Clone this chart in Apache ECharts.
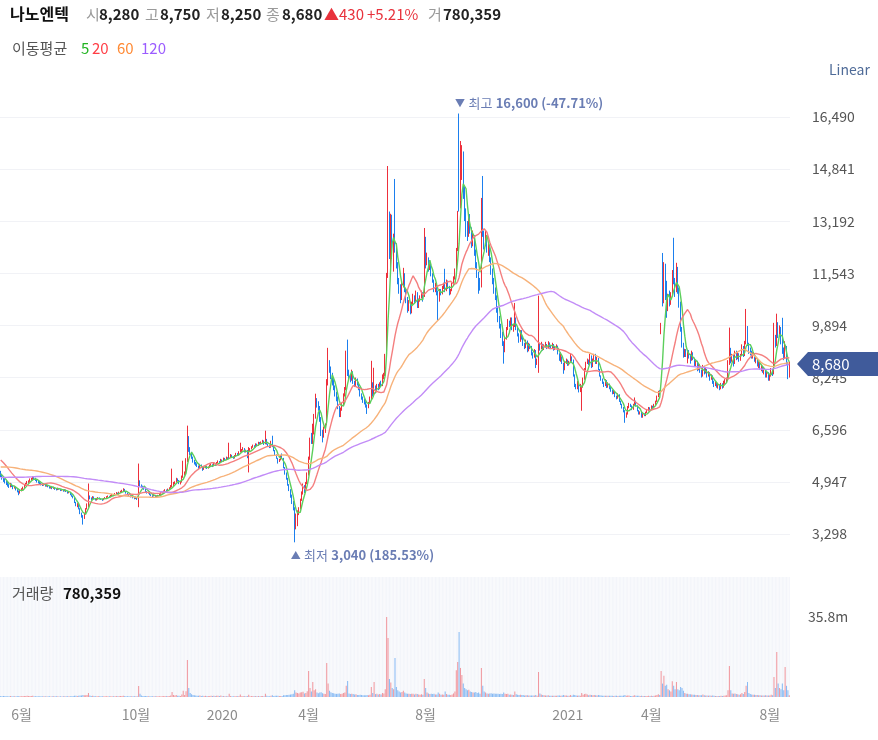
<!DOCTYPE html>
<html><head><meta charset="utf-8">
<script src="https://cdn.jsdelivr.net/npm/echarts@6/dist/echarts.min.js"></script>
<style>html,body{margin:0;padding:0;background:#fff}#c{width:878px;height:740px}</style>
</head><body><div id="c"></div>
<script>
const stockName = '나노엔텍';
const startDate = '2019-05-13';
const holidays = ['2019-06-06','2019-08-15','2019-09-12','2019-09-13','2019-10-03','2019-10-09','2019-12-25','2019-12-31',
 '2020-01-01','2020-01-24','2020-01-27','2020-04-15','2020-04-30','2020-05-01','2020-05-05','2020-08-17','2020-09-30','2020-10-01','2020-10-02','2020-10-09','2020-12-25','2020-12-31',
 '2021-01-01','2021-02-11','2021-02-12','2021-03-01','2021-05-05','2021-05-19','2021-08-16'];
const tickMonths = ['2019-06','2019-10','2020-01','2020-04','2020-08','2021-01','2021-04','2021-08'];
const tickLabels = ['6월','10월','2020','4월','8월','2021','4월','8월'];
const maPeriods = [5,20,60,120];
const maLegendColors = ['#22b422','#ff3d45','#ff8a35','#9b5cff'];
const maLineColors = ['#5ccf5c','#f47f7f','#f7b27a','#c28cf7'];
const priceTicks = {min:1649, max:18139, step:1649};
const volumeTick = 35800;

// closes before the visible window (only used for moving averages)
const preCloses = [4700,4680,4720,4750,4700,4650,4680,4720,4760,4800,4780,4750,4700,4720,4690,4650,4600,4640,4680,4700,
4720,4750,4800,4830,4790,4760,4740,4700,4720,4750,4780,4820,4850,4800,4760,4720,4700,4680,4720,4760,
4790,4810,4780,4750,4730,4700,4720,4750,4770,4800,4760,4740,4780,4800,4820,4790,4760,4780,4810,4850,
4880,4920,4950,5000,4980,5020,5050,5100,5080,5120,5150,5130,5100,5150,5200,5180,5220,5250,5230,5280,
5300,5280,5320,5350,5380,5400,5420,5380,5420,5450,5480,5500,5520,5550,5580,5600,5620,5650,5680,5700,
5750,5850,5950,6000,5900,5950,6050,5980,5900,5850,5800,5700,5650,5500,5400,5350,5300,5250,5200,5150];

// [open, high, low, close, volume(thousand shares)]
const bars2019 = [
[5250,5300,5100,5150,420],[5150,5200,5020,5080,380],[5080,5120,4950,5000,450],[5000,5060,4900,4950,400],[4950,5000,4850,4900,350],
[4900,4950,4800,4850,330],[4850,4880,4760,4800,360],[4800,4920,4780,4880,410],[4880,4900,4790,4820,300],[4820,4840,4720,4760,340],
[4760,4830,4740,4790,280],[4790,4800,4680,4700,380],[4700,4720,4620,4650,350],[4650,4680,4530,4600,460],[4600,4700,4580,4680,390],
[4680,4750,4650,4720,350],[4720,4800,4700,4780,400],[4780,4870,4760,4850,430],[4850,4920,4820,4900,470],[4900,4980,4870,4950,520],
[4950,5000,4900,4980,410],[4980,5060,4950,5020,460],[5020,5080,4990,5050,430],[5050,5130,5020,5100,560],[5100,5120,5030,5060,380],
[5060,5080,4980,5000,350],[5000,5020,4930,4960,320],[4960,4990,4900,4920,300],[4920,4950,4870,4900,290],[4900,4920,4840,4870,310],
[4870,4900,4820,4850,280],[4850,4910,4830,4880,330],[4880,4890,4800,4820,300],[4820,4870,4800,4850,270],[4850,4860,4780,4800,290],
[4800,4820,4740,4760,310],[4760,4810,4740,4790,260],[4790,4800,4720,4740,280],[4740,4800,4730,4780,300],[4780,4790,4700,4720,320],
[4720,4740,4680,4700,290],[4700,4770,4690,4750,310],[4750,4760,4700,4720,270],[4720,4730,4660,4680,300],[4680,4720,4670,4700,260],
[4700,4710,4640,4660,280],[4660,4720,4650,4700,300],[4700,4710,4630,4650,290],[4650,4660,4580,4600,350],[4600,4650,4590,4620,280],
[4620,4630,4530,4550,360],[4550,4560,4480,4500,380],[4500,4520,4430,4450,400],[4450,4460,4280,4300,520],[4300,4320,4180,4200,560],
[4200,4280,4150,4250,480],[4250,4260,4080,4100,540],[4100,4120,3930,3950,620],[3950,3980,3820,3850,680],[3850,3900,3600,3800,900],
[3800,3970,3780,3950,750],[3950,4120,3920,4100,820],[4100,4270,4080,4250,900],[4250,4900,4150,4450,1800],[4460,4520,4400,4430,700],
[4430,4460,4370,4400,500],[4400,4500,4380,4480,520],[4480,4490,4400,4420,400],[4420,4440,4360,4380,380],[4380,4420,4360,4400,350],
[4400,4470,4390,4450,400],[4450,4460,4400,4420,320],[4420,4430,4380,4400,300],[4400,4410,4350,4380,310],[4380,4440,4370,4420,330],
[4420,4470,4410,4450,360],[4450,4500,4430,4480,340],[4480,4520,4460,4500,320],[4500,4510,4450,4470,290],[4470,4540,4460,4520,330],
[4520,4570,4500,4550,350],[4550,4560,4500,4530,300],[4530,4600,4520,4580,380],[4580,4630,4560,4600,400],[4600,4610,4540,4560,330],
[4560,4640,4550,4620,420],[4620,4670,4600,4650,450],[4650,4700,4630,4680,480],[4680,4750,4660,4720,560],[4720,4730,4630,4650,420],
[4650,4660,4580,4600,380],[4600,4610,4530,4550,360],[4550,4570,4500,4520,330],[4520,4530,4460,4480,340],[4480,4520,4470,4500,300],
[4500,4510,4430,4450,320],[4450,4460,4400,4420,310],[4420,4480,4410,4460,290],[4460,4470,4380,4400,350],[4400,5530,4150,4950,4900],
[4950,5000,4800,4850,1500],[4850,4870,4770,4800,700],[4800,4830,4750,4780,500],[4780,4790,4700,4720,450],[4720,4730,4630,4650,420],
[4650,4660,4580,4600,400],[4600,4650,4580,4620,350],[4620,4630,4530,4550,380],[4550,4560,4500,4520,340],[4520,4530,4470,4500,300],
[4500,4550,4490,4530,310],[4530,4540,4460,4480,300],[4480,4520,4470,4500,280],[4500,4540,4490,4520,290],[4520,4570,4510,4550,320],
[4550,4620,4540,4600,380],[4600,4640,4580,4620,360],[4620,4680,4600,4650,400],[4650,4720,4630,4700,450],[4700,4710,4650,4680,380],
[4680,4740,4670,4720,420],[4720,4780,4700,4750,480],[4750,4850,4740,4800,620],[4800,5370,4780,4850,2200],[4850,4950,4820,4900,900],
[4900,4970,4880,4950,700],[4950,5080,4930,5050,900],[5050,5060,4970,5000,600],[5000,5010,4880,4900,550],[4900,4980,4870,4950,500],
[4950,5150,4930,5100,1100],[5100,5620,5080,5200,2800],[5200,5280,5150,5250,900],[5250,5700,5200,5600,2600],[5600,6730,5580,6300,16600],
[6300,6400,5900,6000,4000],[6000,6050,5800,5850,1800],[5850,5900,5680,5700,1200],[5700,5750,5560,5600,900],[5600,5650,5500,5550,800],
[5550,5580,5460,5500,700],[5500,5540,5420,5450,600],[5450,5470,5360,5400,600],[5400,5520,5380,5480,650],[5480,5500,5400,5420,500],
[5420,5430,5300,5350,600],[5350,5430,5330,5400,500],[5400,5480,5380,5450,520],[5450,5460,5360,5380,480],[5380,5440,5370,5420,450],
[5420,5500,5400,5480,500],[5480,5540,5460,5500,520],[5500,5510,5420,5450,450],[5450,5550,5440,5520,530],[5520,5530,5460,5480,420],
[5480,5580,5470,5550,550],[5550,5630,5540,5600,600],[5600,5610,5540,5580,450],[5580,5680,5570,5650,620]];

const bars2020 = [
[5650,5660,5580,5600,300],[5600,5720,5590,5700,420],[5700,5710,5620,5650,320],[5650,5750,5640,5720,380],[5720,5730,5650,5680,300],
[5680,6190,5670,5750,1500],[5750,5830,5720,5800,500],[5800,5810,5720,5750,380],[5750,5760,5680,5700,350],[5700,5800,5690,5780,380],
[5780,5870,5760,5850,400],[5850,5860,5780,5800,320],[5800,5920,5790,5900,450],[5900,6190,5880,5950,1100],[5930,5990,5890,5960,380],
[5960,6050,5940,6000,450],[6000,6020,5880,5900,380],[5900,5970,5880,5950,320],[5950,5960,5700,5750,450],[5650,6050,5250,5950,1000],
[5950,6020,5930,6000,380],[6000,6080,5980,6050,400],[6050,6130,6030,6100,450],[6100,6110,6030,6050,350],[6050,6170,6040,6150,450],
[6150,6160,6080,6100,350],[6100,6220,6090,6200,480],[6200,6210,6120,6150,380],[6150,6230,6140,6200,400],[6200,6280,6180,6250,450],
[6250,6260,6120,6150,380],[6150,6570,6140,6300,1400],[6300,6310,6130,6150,550],[6150,6160,6080,6100,380],[6100,6110,6020,6050,350],
[6050,6250,6030,6200,550],[6200,6410,6050,6100,750],[6100,6110,5920,5950,500],[5950,5960,5780,5800,550],[5800,5820,5680,5700,520],
[5700,5710,5530,5600,600],[5600,5680,5580,5650,450],[5650,5800,5630,5750,500],[5750,5850,5680,5700,450],[5700,5710,5380,5400,750],
[5400,5420,5180,5200,800],[5200,5250,5020,5050,900],[5050,5080,4830,4850,950],[4850,4880,4660,4700,1000],[4700,4720,4450,4500,1100],
[4500,4550,4250,4300,1200],[4300,4350,4050,4100,1400],[4050,4150,3040,3650,3000],[3600,3950,3450,3850,2000],[3850,4050,3550,3950,1800],
[3950,4150,3900,4100,1600],[4100,4420,4080,4400,2000],[4400,4650,4350,4600,2100],[4600,4900,4550,4800,2400],[4800,4850,4600,4700,1600],
[4700,4950,4650,4900,1800],[4900,5250,4880,5200,2600],[5200,5750,5150,5700,11600],[5700,6350,5650,6300,4000],[6300,6500,6150,6200,2500],
[6200,6790,6150,6500,6700],[6500,7100,6450,7000,3000],[7000,7740,6950,7500,3500],[7500,7600,7300,7400,2000],[7400,7500,7200,7300,1700],
[7300,7350,6850,6900,2000],[6900,7000,6400,6500,2100],[6500,6600,6200,6400,1700],[6400,6700,6350,6600,1400],[6600,6800,6500,6700,1300],
[6750,8200,6750,8100,15200],[8100,9190,8000,8700,6000],[8700,8800,8400,8500,2800],[8500,8600,8200,8300,2100],[8300,8400,8000,8100,1800],
[8100,8200,7850,7900,1700],[7900,8000,7650,7700,1500],[7700,7800,7500,7600,1400],[7600,7650,7250,7300,1500],[7300,7350,7000,7100,1600],
[7100,7300,7000,7250,1300],[7250,7450,7200,7400,1400],[7400,7750,7380,7700,1800],[7700,7950,7650,7900,2000],[7900,9100,7850,8900,5000],
[8900,9450,8300,8400,7200],[8400,8500,8200,8300,1600],[8300,8350,8100,8200,1300],[8200,8500,8150,8400,1400],[8400,8450,8050,8100,1300],
[8100,8150,7950,8000,1100],[8000,8250,7980,8200,1200],[8200,8220,8000,8050,950],[8050,8100,7850,7900,950],[7900,7950,7650,7700,1000],
[7700,7750,7550,7600,900],[7600,7650,7450,7500,800],[7500,7580,7400,7450,750],[7450,7500,7300,7350,750],[7350,7400,7100,7300,950],
[7300,7480,7280,7450,800],[7450,7650,7430,7600,1000],[7600,8780,7550,8000,4500],[8000,8100,7650,7700,1800],[7700,8560,7650,7900,6700],
[7900,8000,7750,7800,1300],[7800,8050,7780,8000,1400],[8000,8050,7850,7900,1100],[7900,8100,7880,8050,1300],[8050,8150,7950,8000,1100],
[8000,8350,7980,8300,1800],[8300,8400,8200,8350,1600],[8350,9000,8300,8900,3500],[9000,11560,8950,11560,35800],[12000,14940,11400,13100,26400],
[13000,13500,12000,12200,8000],[12100,13430,11700,13300,6500],[13200,13400,12000,12300,4000],[12300,12800,11600,12500,3500],[12800,14530,12200,12400,17500],
[12400,12500,11700,11800,4500],[11800,11900,11200,11300,3000],[11300,11400,10900,11000,2500],[11000,11200,10600,10800,2000],[10800,11300,10700,11200,2200],
[11200,11720,11100,11500,2800],[11500,11550,10950,11000,2000],[11000,11050,10600,10700,1600],[10700,10800,10300,10400,1500],[10400,10700,10350,10600,1400],
[10600,10650,10250,10300,1300],[10300,10650,10280,10600,1400],[10600,10900,10550,10800,1500],[10800,10850,10600,10700,1100],[10700,11000,10650,10900,1400],
[10900,10950,10450,10500,1300],[10500,10750,10450,10700,1100],[10700,10850,10650,10800,1000],[10800,11000,10750,10900,1200],[10900,10950,10650,10700,1000],
[10900,12980,10800,12400,8000],[12400,12700,11700,11900,4000],[11900,12200,11800,12000,2000],[12000,12050,11600,11700,1600],[11700,11900,11650,11800,1300],
[11800,11850,11450,11500,1400],[11500,11550,11250,11300,1300],[11300,11350,10950,11000,1400],[11000,11250,10950,11200,1100],[11200,11250,10850,10900,1100],
[10900,11000,10050,10700,2000],[10700,11050,10650,11000,1400],[11000,11050,10850,10900,1000],[10900,11150,10880,11100,1100],[11100,11250,11050,11200,1000],
[11200,11690,10950,11000,2500],[11000,11350,10980,11300,1300],[11300,11320,11050,11100,1000],[11100,11150,10850,10900,1000],[10900,11050,10880,11000,900],
[11000,11250,10980,11200,1100],[11200,11450,11150,11400,1600],[11400,11700,11350,11600,2500],[11600,12350,11550,12300,12000],[12300,13520,12250,13300,15700],
[15000,16600,13500,13900,29100],[13900,15730,13600,15400,13000],[15100,15600,14500,15300,9800],[15300,15400,13900,14000,6000],[14000,14300,13200,13400,4000],
[13400,13600,12700,13000,3500],[13000,13200,12570,12800,3000],[12800,13400,12700,13200,3200],[13200,13420,12800,12900,2500],[12900,13000,12350,12500,2200],
[12500,12900,12400,12700,2000],[12700,12750,12100,12200,2000],[12200,12300,11700,11800,2200],[11800,11900,11400,11500,1800],[11500,11600,10900,11300,2000],
[11300,11400,11000,11100,1500],[11200,13930,11100,13500,13000],[13600,14625,12700,12800,5000],[12800,12900,12300,12500,2500],[12500,12890,12400,12700,2000],
[12700,12750,12200,12300,1600],[12300,12500,12100,12400,1400],[12400,12450,11900,12000,1600],[12000,12050,11500,11600,1700],[11600,11700,11200,11300,1500],
[11300,11400,10900,11000,1600],[11000,11100,10700,10800,1400],[10800,10850,10300,10400,1500],[10400,10500,10000,10100,1400],[10100,10200,9800,9900,1300],
[9900,9950,9500,9600,1400],[9600,9700,9250,9300,1300],[9300,9400,8690,9100,2000],[9100,9550,9050,9500,1400],[9500,9850,9450,9800,1300],
[9800,10100,9750,10000,1400],[10000,10050,9850,9900,1000],[9900,10150,9880,10100,1100],[10100,10150,9750,9800,1000],[9800,9950,9700,9900,900],
[9900,10610,9850,10100,2500],[10100,10150,9750,9800,1200],[9800,9850,9550,9600,1000],[9600,9650,9350,9400,900],[9400,9750,9380,9700,1000],
[9700,9750,9450,9500,850],[9500,9550,9250,9300,850],[9300,9350,9150,9200,700],[9200,9450,9180,9400,800],[9400,9420,9050,9100,800],
[9100,9350,9080,9300,700],[9300,9320,9150,9200,650],[9200,9250,8950,9000,700],[9000,9050,8850,8900,650],[8900,9150,8880,9100,700],
[9100,9120,8550,8700,900],[8700,8850,8650,8800,600],[8800,10840,8400,9300,11200],[9300,9350,9100,9200,1600],[9200,9380,9150,9300,1100],
[9300,9320,9100,9150,850],[9150,9300,9120,9250,800],[9250,9380,9200,9300,700],[9300,9310,9150,9200,650],[9200,9400,9180,9350,800],
[9350,9360,9200,9250,600],[9250,9280,9150,9200,550],[9200,9350,9180,9300,600],[9300,9310,9100,9150,600],[9150,9250,9120,9200,550],
[9200,9300,9180,9250,550],[9250,9260,8980,9000,700],[9000,9020,8780,8800,700],[8800,9050,8750,8900,600],[8900,8920,8680,8700,650],
[8700,8720,8370,8500,900],[8500,8750,8480,8700,700],[8700,8850,8680,8800,650]];

const bars2021 = [
[8800,8820,8620,8650,550],[8650,8780,8630,8750,550],[8750,9000,8730,8900,850],[8900,8920,8750,8800,600],[8800,8820,8280,8300,1000],
[8300,8350,7950,8000,900],[8000,8050,7880,7900,650],[7900,8150,7880,8100,600],[8100,8120,7780,7800,650],[7800,8050,7790,8000,600],
[7700,8000,7200,7950,1800],[7950,8250,7930,8200,1000],[8200,8550,8180,8500,1300],[8500,8750,8480,8700,1400],[8700,8850,8680,8800,1100],
[8800,8820,8650,8700,800],[8700,9000,8680,8900,1000],[8900,8950,8550,8600,850],[8600,8850,8580,8800,750],[8800,9000,8780,8950,900],
[8950,9000,8680,8700,800],[8700,8900,8680,8850,700],[8850,8870,8480,8500,850],[8500,8520,8280,8300,800],[8300,8320,8150,8200,650],
[8200,8220,8050,8100,600],[8100,8120,7950,8000,600],[8000,8200,7980,8150,600],[8150,8170,7920,7950,600],[7950,8100,7930,8050,550],
[8050,8060,7880,7900,550],[7900,7950,7800,7850,550],[7850,7870,7720,7750,550],[7750,7850,7730,7800,480],[7800,7820,7630,7650,550],
[7650,7680,7560,7600,550],[7600,7750,7580,7700,480],[7700,7720,7480,7500,600],[7500,7520,7380,7400,600],[7400,7420,7270,7300,600],
[7300,7320,7150,7200,650],[7200,7220,6820,7000,900],[7000,7150,6980,7100,600],[7100,7350,7080,7300,650],[7300,7450,7280,7400,650],
[7400,7420,7320,7350,480],[7350,7370,7220,7250,480],[7250,7420,7230,7400,550],[7400,7620,7380,7500,800],[7500,7520,7330,7350,550],
[7350,7370,7180,7200,550],[7200,7220,7080,7100,550],[7100,7180,7080,7150,420],[7150,7170,6980,7000,550],[7000,7120,6980,7100,480],
[7100,7120,7030,7050,420],[7050,7170,7030,7150,480],[7150,7230,7130,7200,480],[7200,7320,7180,7300,550],[7300,7310,7220,7250,420],
[7250,7370,7230,7350,550],[7350,7360,7270,7300,480],[7300,7420,7280,7400,600],[7400,7520,7380,7500,700],[7500,7680,7480,7650,900],
[7650,7830,7630,7800,1200],[7800,7850,7700,7750,900],[9650,9980,9620,9950,11600],[11850,12190,10500,10600,6000],[10700,11900,10600,11800,9500],
[11800,11850,10700,10800,5000],[10800,11310,10140,10400,5500],[10400,10900,10350,10800,3500],[10800,11000,10500,10600,3000],[10600,10950,10550,10900,2500],
[10900,11650,10850,11400,7000],[12000,12670,11200,11300,5000],[11300,11400,10800,11000,3500],[11000,11880,10950,11700,6700],[11700,11750,10900,11000,3500],
[11000,11100,10460,10600,3000],[10600,10650,9700,9800,4500],[9800,9850,9200,9300,4000],[9300,9350,8880,9000,2800],[9000,9160,8900,9100,1800],
[9100,9150,8900,8950,1400],[8950,9100,8700,9050,1400],[9050,9120,8850,8900,1200],[8900,9000,8690,8800,1200],[8800,9100,8780,9000,1100],
[9000,9050,8800,8850,1000],[8850,8880,8600,8650,1000],[8650,8800,8600,8750,850],[8750,8780,8450,8500,850],[8500,8700,8480,8650,800],
[8650,8670,8400,8450,800],[8450,8500,8250,8300,800],[8300,8650,8280,8600,1100],[8600,8620,8350,8400,800],[8400,8560,8380,8500,650],
[8500,8520,8250,8300,650],[8300,8450,8280,8400,600],[8400,8420,8150,8200,650],[8200,8350,8180,8300,600],[8300,8320,8050,8100,650],
[8100,8150,7950,8000,600],[8000,8120,7980,8100,500],[8100,8110,7930,7950,500],[7950,8050,7900,8000,500],[8000,8020,7850,7900,500],
[7900,8080,7880,8050,550],[8050,8070,7900,7950,450],[7950,8150,7930,8100,550],[8100,8200,8050,8150,650],[8150,8250,8100,8200,800],
[8200,8800,8180,8700,3000],[8700,9830,8650,9000,13900],[9000,9190,8700,8800,3000],[8800,9000,8750,8950,1600],[8950,9000,8600,8700,1400],
[8700,9100,8680,9050,1600],[9050,9100,8800,8850,1300],[8850,9050,8830,9000,1200],[9000,9020,8750,8800,1000],[8800,9000,8780,8950,1200],
[8950,9300,8930,9200,1800],[9200,9250,8900,8950,1300],[8950,9410,8930,9350,2200],[9350,10420,9300,9700,5000],[9700,9880,9250,9300,6700],
[9300,9350,9000,9100,1800],[9100,9200,8950,9000,1300],[9000,9100,8850,8900,1100],[8900,9050,8850,9000,1000],[9000,9020,8750,8800,1000],
[8800,8900,8700,8850,850],[8850,8870,8600,8650,850],[8650,8750,8550,8700,800],[8700,8720,8500,8550,800],[8550,8650,8450,8600,700],
[8600,8620,8400,8450,700],[8450,8550,8350,8500,650],[8500,8520,8250,8300,800],[8300,8450,8250,8400,650],[8400,8420,8150,8200,700],
[8200,8350,8150,8300,650],[8300,8550,8280,8500,1000],[8500,8520,8300,8400,800],[8400,9980,8350,9500,9000],[9500,9600,9200,9300,4000],
[9300,10270,9250,9900,20100],[9900,10000,9500,9600,6000],[9600,9900,9550,9800,4000],[9800,9850,9300,9400,3500],[9400,10140,9000,9100,6000],
[9100,9200,8800,8900,3000],[8900,9400,8850,9200,13400],[9200,9250,8650,8700,5000],[8700,8750,8200,8250,3000],[8280,8750,8250,8680,780.359]];

const bars = bars2019.concat(bars2020, bars2021);
const FONT = "'Noto Sans CJK KR','Noto Sans',sans-serif";
const UP = '#ee2f3b', DOWN = '#1b7fee';

// trading dates
const dates = [];
{
  const d = new Date(startDate + 'T00:00:00Z');
  while (dates.length < bars.length) {
    const wd = d.getUTCDay();
    const s = d.toISOString().slice(0, 10);
    if (wd !== 0 && wd !== 6 && holidays.indexOf(s) < 0) dates.push(s);
    d.setUTCDate(d.getUTCDate() + 1);
  }
}
const tickIdx = {};
tickMonths.forEach((m, k) => { const i = dates.findIndex(s => s.slice(0, 7) === m); if (i >= 0) tickIdx[i] = tickLabels[k]; });

const closes = bars.map(b => b[3]);
const allCloses = preCloses.concat(closes);
function movingAverage(n) {
  return bars.map((b, i) => {
    const j = i + preCloses.length; let s = 0;
    for (let k = j - n + 1; k <= j; k++) s += allCloses[k];
    return Math.round(s / n * 10) / 10;
  });
}
const fmt = v => Math.round(v).toLocaleString('en-US');

const chart = echarts.init(document.getElementById('c'), null, {renderer: 'canvas'});
const maSeries = maPeriods.map((p, k) => ({
  type: 'line', name: 'MA' + p, data: movingAverage(p), xAxisIndex: 0, yAxisIndex: 0,
  showSymbol: false, symbol: 'none', smooth: false, silent: true,
  lineStyle: {color: maLineColors[k], width: 1.4}, z: 3 + k
}));

chart.setOption({
  animation: false,
  backgroundColor: '#fff',
  textStyle: {fontFamily: FONT},
  grid: [
    {left: 0, right: 88, top: 64.85, height: 521.45},
    {left: 0, right: 88, top: 577, height: 120}
  ],
  xAxis: [
    {type: 'category', data: dates, gridIndex: 0, boundaryGap: true, axisLine: {show: false}, axisTick: {show: false}, axisLabel: {show: false}, splitLine: {show: false}},
    {type: 'category', data: dates, gridIndex: 1, boundaryGap: true, axisLine: {show: false}, axisTick: {show: false}, splitLine: {show: false},
     axisLabel: {show: true, color: '#8c8c8c', fontSize: 14, fontFamily: FONT, margin: 11,
       interval: (i) => tickIdx[i] !== undefined,
       formatter: (v, i) => tickIdx[i] || ''}}
  ],
  yAxis: [
    {type: 'value', gridIndex: 0, position: 'right', min: priceTicks.min, max: priceTicks.max, interval: priceTicks.step, scale: false,
     axisLine: {show: false}, axisTick: {show: false},
     axisLabel: {color: '#555', fontSize: 14, fontFamily: FONT, margin: 22, showMinLabel: false, showMaxLabel: false, formatter: v => fmt(v)},
     splitLine: {show: true, showMinLine: false, showMaxLine: false, lineStyle: {color: '#f1f2f6', width: 1}}},
    {type: 'value', gridIndex: 1, position: 'right', min: 0, max: 53700, interval: volumeTick,
     axisLine: {show: false}, axisTick: {show: false}, splitLine: {show: false},
     axisLabel: {color: '#555', fontSize: 14, fontFamily: FONT, margin: 18, showMinLabel: false, showMaxLabel: false,
       formatter: v => (v === volumeTick ? (v / 1000).toFixed(1) + 'm' : '')}}
  ],
  series: [
    {type: 'candlestick', name: stockName, xAxisIndex: 0, yAxisIndex: 0, z: 2,
     data: bars.map(b => [b[0], b[3], b[2], b[1]]),
     itemStyle: {color: UP, color0: DOWN, borderColor: UP, borderColor0: DOWN, borderWidth: 1}},
    ...maSeries,
    {type: 'bar', name: 'volume', xAxisIndex: 1, yAxisIndex: 1, barCategoryGap: '25%',
     showBackground: true, backgroundStyle: {color: '#f3f5fa'},
     data: bars.map(b => ({value: b[4], itemStyle: {color: b[3] >= b[0] ? 'rgba(238,60,70,0.5)' : 'rgba(30,128,238,0.5)'}}))}
  ]
});

// text overlays
const last = bars[bars.length - 1], prev = bars[bars.length - 2];
const chg = last[3] - prev[3], pct = chg / prev[3] * 100;
const g = [];
function txt(x, y, text, size, color, weight) {
  g.push({type: 'text', x: x, y: y, z: 100, silent: true,
    style: {text: text, fontSize: size, fill: color, fontWeight: weight || 'normal', fontFamily: FONT, verticalAlign: 'middle', align: 'left'}});
}
txt(10, 14, stockName, 16, '#111', 'bold');
txt(86, 14, '시', 15, '#9a9a9a'); txt(99, 14, fmt(last[0]), 15, '#222', 'bold');
txt(145, 14, '고', 15, '#9a9a9a'); txt(160, 14, fmt(last[1]), 15, '#222', 'bold');
txt(206, 14, '저', 15, '#9a9a9a'); txt(221, 14, fmt(last[2]), 15, '#222', 'bold');
txt(266, 14, '종', 15, '#9a9a9a'); txt(282, 14, fmt(last[3]), 15, '#222', 'bold');
txt(324, 14, (chg >= 0 ? '▲' : '▼') + fmt(Math.abs(chg)), 15, '#e8323c');
txt(367, 14, (pct >= 0 ? '+' : '') + pct.toFixed(2) + '%', 15, '#e8323c');
txt(428, 14, '거', 15, '#9a9a9a'); txt(443, 14, fmt(last[4] * 1000), 15, '#222', 'bold');
txt(12, 48, '이동평균', 15, '#555');
const legX = [81, 92, 117, 141];
maPeriods.forEach((p, k) => txt(legX[k], 48, String(p), 15, maLegendColors[k]));
txt(829, 70, 'Linear', 14, '#4f6b98');
txt(12, 593, '거래량', 15, '#555'); txt(63, 593, fmt(last[4] * 1000), 15, '#111', 'bold');

// highest / lowest labels
let hi = 0, lo = 0;
bars.forEach((b, i) => { if (b[1] > bars[hi][1]) hi = i; if (b[2] < bars[lo][2]) lo = i; });
const ph = chart.convertToPixel({gridIndex: 0}, [hi, bars[hi][1]]);
const pl = chart.convertToPixel({gridIndex: 0}, [lo, bars[lo][2]]);
const markColor = '#6a7db4';
const rich = {
  t: {fontSize: 10, fill: markColor, fontFamily: FONT},
  l: {fontSize: 13, fill: markColor, fontFamily: FONT},
  v: {fontSize: 13, fill: markColor, fontFamily: FONT, fontWeight: 'bold'}
};
const hp = ((last[3] / bars[hi][1] - 1) * 100).toFixed(2);
const lp = ((last[3] / bars[lo][2] - 1) * 100).toFixed(2);
g.push({type: 'text', x: ph[0] - 4, y: ph[1] - 10, z: 100, silent: true,
  style: {text: '{t|▼} {l|최고} {v|' + fmt(bars[hi][1]) + ' (' + hp + '%)}', rich: rich, verticalAlign: 'middle', align: 'left'}});
g.push({type: 'text', x: pl[0] - 4, y: pl[1] + 13, z: 100, silent: true,
  style: {text: '{t|▲} {l|최저} {v|' + fmt(bars[lo][2]) + ' (' + lp + '%)}', rich: rich, verticalAlign: 'middle', align: 'left'}});

// current price tag
const pc = chart.convertToPixel({gridIndex: 0}, [bars.length - 1, last[3]]);
const ty = pc[1];
g.push({type: 'polygon', z: 110, silent: true,
  shape: {points: [[797, ty], [808, ty - 12], [878, ty - 12], [878, ty + 12], [808, ty + 12]]},
  style: {fill: '#405b9b'}});
g.push({type: 'text', x: 812, y: ty, z: 111, silent: true,
  style: {text: fmt(last[3]), fontSize: 15, fill: '#fff', fontFamily: FONT, verticalAlign: 'middle', align: 'left'}});

chart.setOption({graphic: g});
</script>
</body></html>
